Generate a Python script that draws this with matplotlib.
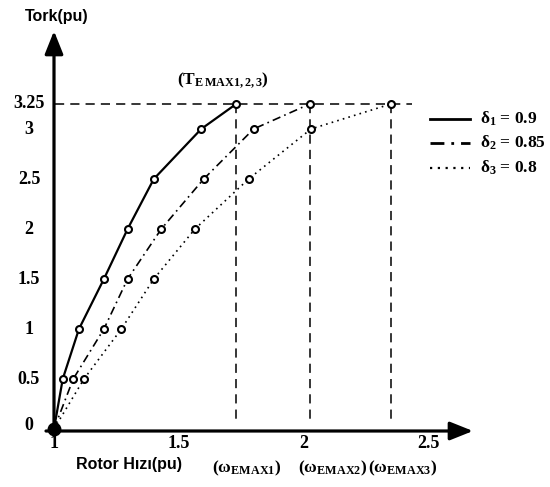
import matplotlib
matplotlib.use("Agg")
import matplotlib.pyplot as plt

# ---- data ----
torque = [0, 0.5, 1, 1.5, 2, 2.5, 3, 3.25]
speed_d1 = [1, 1.035, 1.10, 1.20, 1.295, 1.40, 1.59, 1.73]
speed_d2 = [1, 1.077, 1.20, 1.295, 1.43, 1.60, 1.80, 2.025]
speed_d3 = [1, 1.12, 1.27, 1.40, 1.565, 1.78, 2.03, 2.35]
series_labels = [r'δ$_\mathbf{1}$ = 0.9', r'δ$_\mathbf{2}$ = 0.85', r'δ$_\mathbf{3}$ = 0.8']
y_ticks = [0, 0.5, 1, 1.5, 2, 2.5, 3, 3.25]
y_tick_labels = ['0', '0.5', '1', '1.5', '2', '2.5', '3', '3.25']
x_ticks = [1, 1.5, 2, 2.5]
x_tick_labels = ['1', '1.5', '2', '2.5']
t_max = 3.25
w_max = [1.73, 2.025, 2.35]
w_max_labels = [r'(ω$_{\mathbf{EMAX1}}$)', r'(ω$_{\mathbf{EMAX2}}$)', r'(ω$_{\mathbf{EMAX3}}$)']

plt.rcParams['mathtext.fontset'] = 'custom'
plt.rcParams['mathtext.rm'] = 'Liberation Serif'
plt.rcParams['mathtext.it'] = 'Liberation Serif'
plt.rcParams['mathtext.bf'] = 'Liberation Serif:bold'

W, H = 550, 487
fig = plt.figure(figsize=(W / 100, H / 100), dpi=100)
ax = fig.add_axes([0, 0, 1, 1])
X0, SX = 54, 249.5   # pixel of x=1, pixels per unit
Y0, SY = 429, 100.0  # pixel of T=0, pixels per unit
ax.set_xlim(1 - X0 / SX, 1 + (W - X0) / SX)
ax.set_ylim((Y0 - H) / SY, Y0 / SY)
ax.axis('off')

def P(px, py):
    return 1 + (px - X0) / SX, (Y0 - py) / SY

# axes arrows
ax.annotate('', xy=P(54, 31), xytext=P(54, 431),
            arrowprops=dict(arrowstyle='-|>,head_length=0.7,head_width=0.28',
                            lw=2.3, color='black', mutation_scale=20, shrinkA=0, shrinkB=0))
ax.annotate('', xy=P(473, 431), xytext=P(46, 431),
            arrowprops=dict(arrowstyle='-|>,head_length=0.7,head_width=0.28',
                            lw=2.3, color='black', mutation_scale=20, shrinkA=0, shrinkB=0))
ax.plot([1], [0], 'o', color='black', ms=9, zorder=6)

# reference dashed lines
dash = (0, (6, 4))
ax.plot([1 + 1 / SX, P(412, 0)[0]], [t_max, t_max], color='black', lw=1.1, linestyle=dash)
for w in w_max:
    ax.plot([w, w], [t_max, P(0, 421)[1]], color='black', lw=1.1, linestyle=dash)

# curves
styles = ['-', (0, (5, 2.5, 1, 2.5)), (0, (1, 2.5))]
lws = [1.6, 1.2, 1.2]
for sp, ls, lw, lab in zip([speed_d1, speed_d2, speed_d3], styles, lws, series_labels):
    ax.plot(sp, torque, color='black', lw=lw, linestyle=ls, marker='o', ms=5,
            mfc='white', mec='black', mew=1.5, markevery=slice(1, None), zorder=5)

# legend (drawn manually)
leg_y = [119, 143, 168]
for ls, lw, lab, py in zip(styles, [2.0, 2.0, 1.6], series_labels, leg_y):
    xa, ya = P(430, py)
    xb, _ = P(470, py)
    ax.plot([xa, xb], [ya, ya], color='black', lw=lw, linestyle=ls)
    ax.text(*P(480, py), lab, fontsize=12.5, fontweight='bold', family='Liberation Serif',
            ha='left', va='center')

# tick labels
for t, lab in zip(y_ticks, y_tick_labels):
    ax.text(P(29, 0)[0], t + (0.04 if t == 0 else 0), lab, fontsize=13, fontweight='bold',
            family='Liberation Serif', ha='center', va='center')
for x, lab in zip(x_ticks, x_tick_labels):
    ax.text(x, P(0, 444)[1], lab, fontsize=13, fontweight='bold',
            family='Liberation Serif', ha='center', va='center')

# axis titles
ax.text(*P(57, 17), 'Tork(pu)', fontsize=11.5, fontweight='bold', family='Liberation Sans',
        ha='center', va='center')
ax.text(*P(129, 465), 'Rotor Hızı(pu)', fontsize=11.5, fontweight='bold', family='Liberation Sans',
        ha='center', va='center')

# annotations
ax.text(*P(223, 80), r'(T$_{\mathbf{E\,MAX1,2,3}}$)', fontsize=12.5, fontweight='bold',
        family='Liberation Serif', ha='center', va='center')
for px, lab in zip([247, 333, 403], w_max_labels):
    ax.text(*P(px, 468), lab, fontsize=12.5, fontweight='bold', family='Liberation Serif',
            ha='center', va='center')

fig.savefig('out.png', dpi=100)
